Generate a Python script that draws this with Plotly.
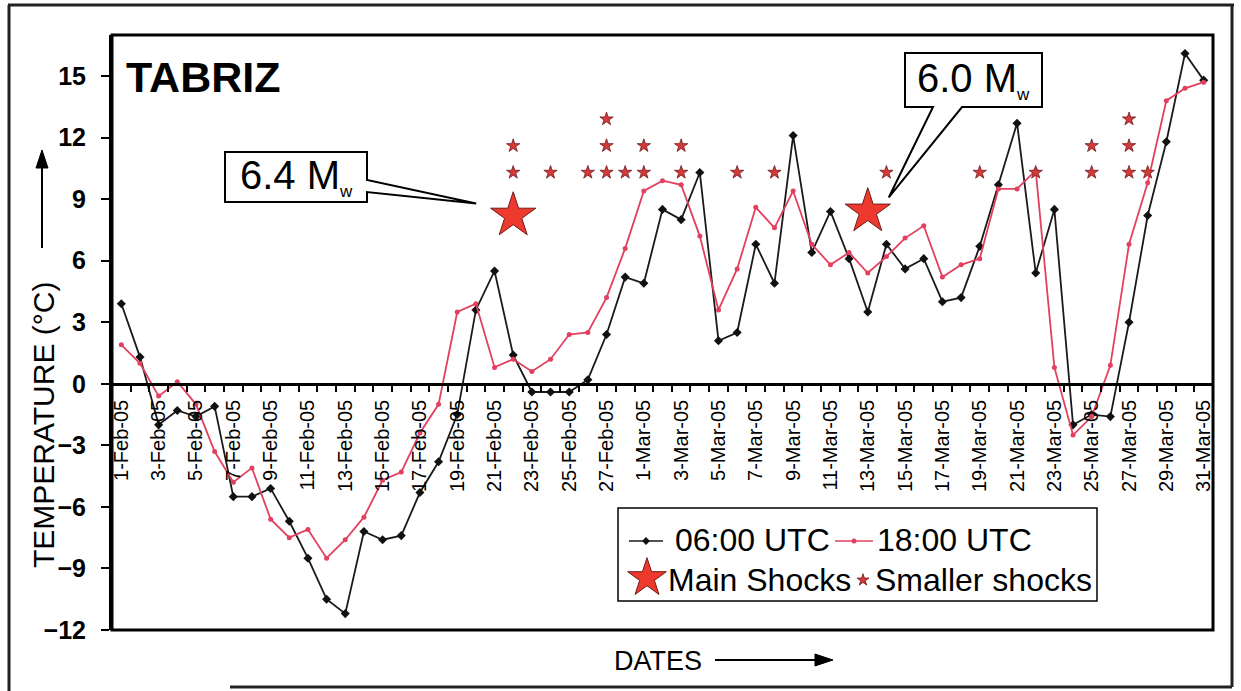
import pandas as pd
import plotly.graph_objects as go

# ---- data -------------------------------------------------------------
dates = pd.date_range("2005-02-01", "2005-03-31", freq="D")
date_labels = [f"{d.day}-{d.strftime('%b')}-05" for d in dates]

temp_0600 = [3.9, 1.3, -2.0, -1.3, -1.6, -1.1, -5.5, -5.5, -5.1, -6.7,
             -8.5, -10.5, -11.2, -7.2, -7.6, -7.4, -5.3, -3.8, -1.5, 3.6,
             5.5, 1.4, -0.4, -0.4, -0.4, 0.2, 2.4, 5.2,
             4.9, 8.5, 8.0, 10.3, 2.1, 2.5, 6.8, 4.9, 12.1, 6.4,
             8.4, 6.1, 3.5, 6.8, 5.6, 6.1, 4.0, 4.2, 6.7, 9.7,
             12.7, 5.4, 8.5, -2.0, -1.5, -1.6, 3.0, 8.2, 11.8, 16.1, 14.8]

temp_1800 = [1.9, 1.0, -0.6, 0.1, -1.0, -3.3, -4.8, -4.1, -6.6, -7.5,
             -7.1, -8.5, -7.6, -6.5, -4.7, -4.3, -2.4, -1.0, 3.5, 3.9,
             0.8, 1.2, 0.6, 1.2, 2.4, 2.5, 4.2, 6.6,
             9.4, 9.9, 9.7, 7.2, 3.6, 5.6, 8.6, 7.6, 9.4, 6.8,
             5.8, 6.4, 5.4, 6.2, 7.1, 7.7, 5.2, 5.8, 6.1, 9.5,
             9.5, 10.4, 0.8, -2.5, -1.6, 0.9, 6.8, 9.8, 13.8, 14.4, 14.7]

main_shock_dates = ["22-Feb-05", "13-Mar-05"]
main_shock_level = [8.2, 8.4]
main_shock_mag = ["6.4", "6.0"]

small_shock_dates = ["22-Feb-05", "22-Feb-05", "24-Feb-05", "26-Feb-05",
                     "27-Feb-05", "27-Feb-05", "27-Feb-05", "28-Feb-05",
                     "1-Mar-05", "1-Mar-05", "3-Mar-05", "3-Mar-05",
                     "6-Mar-05", "8-Mar-05", "14-Mar-05", "19-Mar-05",
                     "22-Mar-05", "25-Mar-05", "25-Mar-05", "27-Mar-05",
                     "27-Mar-05", "27-Mar-05", "28-Mar-05"]
small_shock_level = [10.3, 11.6, 10.3, 10.3,
                     10.3, 11.6, 12.9, 10.3,
                     10.3, 11.6, 10.3, 11.6,
                     10.3, 10.3, 10.3, 10.3,
                     10.3, 10.3, 11.6, 10.3,
                     11.6, 12.9, 10.3]

y_ticks = list(range(-12, 16, 3))
Y_MIN, Y_MAX = -12, 17

# ---- geometry helpers (figure pixels -> paper fractions) ------------------
W, H = 1241, 691
L, R, T, B = 112, 1213, 35, 630          # plot-area edges in pixels
FONT = "Liberation Sans, Arial, sans-serif"


def px(xp):
    return (xp - L) / (R - L)


def py(yp):
    return (B - yp) / (B - T)


def data_to_pixel(i, v):
    x = L + (i + 0.5) * (R - L) / len(date_labels)
    y = B - (v - Y_MIN) * (B - T) / (Y_MAX - Y_MIN)
    return x, y


idx = list(range(len(date_labels)))
pos = {lab: i for i, lab in enumerate(date_labels)}
main_x = [pos[d] for d in main_shock_dates]
small_x = [pos[d] for d in small_shock_dates]

fig = go.Figure()

fig.add_trace(go.Scatter(
    x=idx, y=temp_0600, mode="lines+markers", name="06:00 UTC",
    line=dict(color="#1a1a1a", width=1.8),
    marker=dict(symbol="diamond", size=7, color="#111111")))

fig.add_trace(go.Scatter(
    x=idx, y=temp_1800, mode="lines+markers", name="18:00 UTC",
    line=dict(color="#E2405E", width=1.8),
    marker=dict(symbol="circle", size=5, color="#E2405E")))

fig.add_trace(go.Scatter(
    x=small_x, y=small_shock_level, mode="markers", name="Smaller shocks",
    marker=dict(symbol="star", size=10, color="#D43A3A",
                line=dict(color="#6e1a1a", width=0.8))))

fig.add_trace(go.Scatter(
    x=main_x, y=main_shock_level, mode="markers", name="Main Shocks",
    marker=dict(symbol="star", size=34, color="#EE3A2E",
                line=dict(color="#6e1a1a", width=1))))

# ---- legend swatch markers drawn on a pixel-unit overlay ------------------
fig.add_trace(go.Scatter(
    x=[646], y=[541], xaxis="x2", yaxis="y2", mode="markers",
    marker=dict(symbol="diamond", size=6, color="#111111"),
    hoverinfo="skip"))
fig.add_trace(go.Scatter(
    x=[854], y=[541], xaxis="x2", yaxis="y2", mode="markers",
    marker=dict(symbol="circle", size=5, color="#E2405E"),
    hoverinfo="skip"))
fig.add_trace(go.Scatter(
    x=[647], y=[578], xaxis="x2", yaxis="y2", mode="markers",
    marker=dict(symbol="star", size=29, color="#EE3A2E",
                line=dict(color="#6e1a1a", width=1)),
    hoverinfo="skip"))
fig.add_trace(go.Scatter(
    x=[863], y=[580], xaxis="x2", yaxis="y2", mode="markers",
    marker=dict(symbol="star", size=9, color="#D43A3A",
                line=dict(color="#6e1a1a", width=0.8)),
    hoverinfo="skip"))

shapes = []
annotations = []

# plot-area frame
shapes.append(dict(type="rect", xref="paper", yref="paper", x0=0, y0=0,
                   x1=1, y1=1, line=dict(color="black", width=3)))

# outer frame
for (x0, y0, x1, y1) in [(8, 5, 1234, 5), (9, 5, 9, 691),
                         (1232, 5, 1232, 687), (230, 687, 1232, 687)]:
    shapes.append(dict(type="line", xref="paper", yref="paper",
                       x0=px(x0), y0=py(y0), x1=px(x1), y1=py(y1),
                       line=dict(color="#222", width=3)))

# legend box and its line swatches
shapes.append(dict(type="rect", xref="paper", yref="paper", layer="below",
                   x0=px(618), y0=py(601), x1=px(1097), y1=py(508),
                   fillcolor="white", line=dict(color="black", width=1.5)))
shapes.append(dict(type="line", xref="paper", yref="paper", layer="below",
                   x0=px(629), y0=py(541), x1=px(663), y1=py(541),
                   line=dict(color="#1a1a1a", width=1.5)))
shapes.append(dict(type="line", xref="paper", yref="paper", layer="below",
                   x0=px(835), y0=py(541), x1=px(873), y1=py(541),
                   line=dict(color="#E2405E", width=1.5)))


def poly(points, close=True):
    s = "M " + " L ".join(f"{px(a):.5f},{py(b):.5f}" for a, b in points)
    return s + (" Z" if close else "")


def magnitude_label(m):
    return f'{m} M<sub><span style="font-size:17px">w</span></sub>'


# callouts for the two main shocks
sx, sy = data_to_pixel(main_x[0], main_shock_level[0])
tip = (sx - 37, sy - 12)
shapes.append(dict(type="path", xref="paper", yref="paper", layer="above",
                   path=poly([(225, 152), (367, 152), (367, 180), tip,
                              (367, 192), (367, 202), (225, 202)]),
                   fillcolor="white", line=dict(color="black", width=2)))
annotations.append(dict(xref="paper", yref="paper", x=px(296), y=py(177),
                        xanchor="center", yanchor="middle",
                        text=magnitude_label(main_shock_mag[0]),
                        showarrow=False, font=dict(size=40, family=FONT)))

sx, sy = data_to_pixel(main_x[1], main_shock_level[1])
tip = (sx + 21, sy - 14)
shapes.append(dict(type="path", xref="paper", yref="paper", layer="above",
                   path=poly([(905, 53), (1042, 53), (1042, 107), (962, 107),
                              tip, (933, 107), (905, 107)]),
                   fillcolor="white", line=dict(color="black", width=2)))
annotations.append(dict(xref="paper", yref="paper", x=px(973), y=py(80),
                        xanchor="center", yanchor="middle",
                        text=magnitude_label(main_shock_mag[1]),
                        showarrow=False, font=dict(size=40, family=FONT)))

# station name
annotations.append(dict(xref="paper", yref="paper", x=px(124), y=py(77),
                        xanchor="left", yanchor="middle",
                        text="<b>TABRIZ</b>", showarrow=False,
                        font=dict(size=43, family=FONT)))

# legend texts
for txt, x, y in [("06:00 UTC", 673, 540), ("18:00 UTC", 875, 540),
                  ("Main Shocks", 666, 580), ("Smaller shocks", 873, 580)]:
    annotations.append(dict(xref="paper", yref="paper", x=px(x), y=py(y),
                            xanchor="left", yanchor="middle", text=txt,
                            showarrow=False, font=dict(size=32, family=FONT)))

# axis titles
annotations.append(dict(xref="paper", yref="paper", x=px(43), y=py(425),
                        xanchor="center", yanchor="middle",
                        text="TEMPERATURE (°C)", textangle=-90,
                        showarrow=False, font=dict(size=30, family=FONT)))
annotations.append(dict(xref="paper", yref="paper", x=px(658), y=py(661),
                        xanchor="center", yanchor="middle",
                        text="DATES", showarrow=False,
                        font=dict(size=27, family=FONT)))

# arrows next to the axis titles (shaft + filled head)
shapes.append(dict(type="line", xref="paper", yref="paper",
                   x0=px(42), y0=py(248), x1=px(42), y1=py(165),
                   line=dict(color="black", width=2)))
shapes.append(dict(type="path", xref="paper", yref="paper",
                   path=poly([(42, 150), (48, 168), (36, 168)]),
                   fillcolor="black", line=dict(color="black", width=1)))
shapes.append(dict(type="line", xref="paper", yref="paper",
                   x0=px(715), y0=py(660), x1=px(818), y1=py(660),
                   line=dict(color="black", width=2)))
shapes.append(dict(type="path", xref="paper", yref="paper",
                   path=poly([(833, 660), (815, 654), (815, 666)]),
                   fillcolor="black", line=dict(color="black", width=1)))

fig.update_layout(
    width=W, height=H, autosize=False,
    margin=dict(l=L, r=W - R, t=T, b=H - B, pad=0),
    paper_bgcolor="white", plot_bgcolor="white",
    showlegend=False,
    font=dict(family=FONT, color="black"),
    shapes=shapes, annotations=annotations,
    xaxis=dict(
        range=[-0.5, len(date_labels) - 0.5],
        tickmode="array", tickvals=idx[::2], ticktext=date_labels[::2],
        tickangle=-90, tickfont=dict(size=20, family=FONT),
        anchor="free", position=(0 - Y_MIN) / (Y_MAX - Y_MIN),
        showline=True, linewidth=3, linecolor="black",
        ticks="outside", ticklen=6, tickcolor="rgba(0,0,0,0)",
        minor=dict(tickmode="array",
                   tickvals=[i + 0.5 for i in range(-1, len(date_labels))],
                   ticks="outside", ticklen=6, tickwidth=2, tickcolor="black"),
        showgrid=False, zeroline=False),
    yaxis=dict(
        range=[Y_MIN, Y_MAX], tickmode="array", tickvals=y_ticks,
        ticks="outside", ticklen=8, tickwidth=2, tickcolor="black",
        tickfont=dict(size=25, family=FONT, weight="bold"),
        ticklabelstandoff=10,
        showline=True, linewidth=3, linecolor="black",
        showgrid=False, zeroline=False),
    xaxis2=dict(overlaying="x", range=[L, R], visible=False),
    yaxis2=dict(overlaying="y", range=[B, T], visible=False),
)

fig.write_html("out.html")
